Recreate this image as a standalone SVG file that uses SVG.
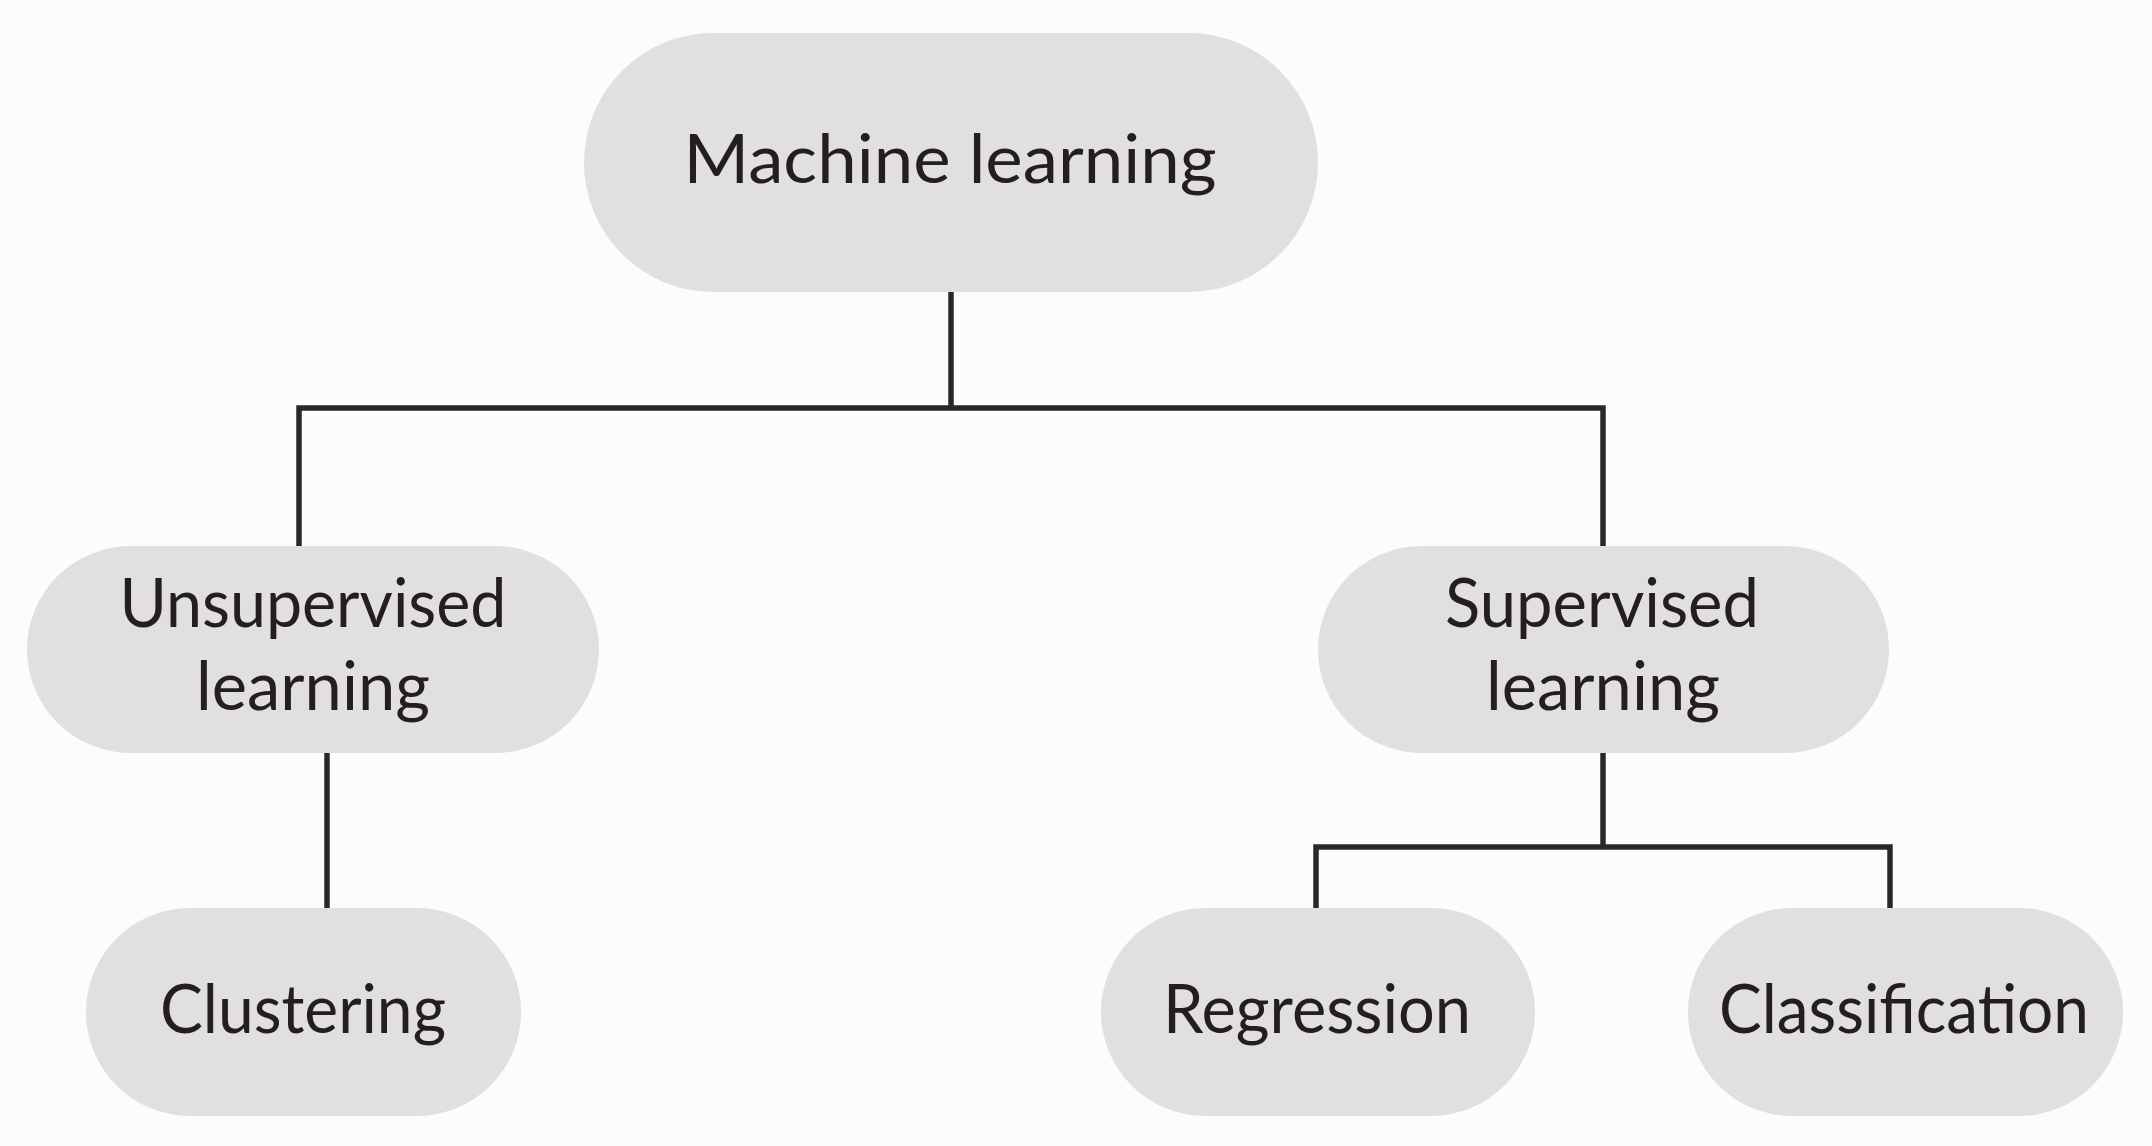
<svg xmlns="http://www.w3.org/2000/svg" width="2152" height="1146" viewBox="0 0 2152 1146">
<style>
.pill{fill:#e1dfe0;}
.lbl{font-family:Lato,"Open Sans","Liberation Sans",sans-serif;font-size:68px;fill:#231f20;text-anchor:middle;}
.conn{fill:none;stroke:#2b2728;stroke-width:5.5;stroke-linejoin:miter;stroke-linecap:butt;}
</style>
<rect x="0" y="0" width="2152" height="1146" fill="#fbfdfd"/>
<g id="connectors">
<path class="conn" d="M951,292 V408"/>
<path class="conn" d="M299,546 V408 H1603 V546"/>
<path class="conn" d="M327,753 V908"/>
<path class="conn" d="M1603,753 V847"/>
<path class="conn" d="M1316,908 V847 H1890 V908"/>
</g>
<g id="machine-learning">
<rect class="pill" x="584" y="33" width="734" height="259" rx="129.5" ry="129.5"/>
<text class="lbl" x="950" y="183" textLength="533" lengthAdjust="spacingAndGlyphs">Machine learning</text>
</g>
<g id="unsupervised-learning">
<rect class="pill" x="27" y="546" width="572" height="207" rx="103.5" ry="103.5"/>
<text class="lbl" x="313" y="627" textLength="387" lengthAdjust="spacingAndGlyphs">Unsupervised</text>
<text class="lbl" x="313" y="710" textLength="234" lengthAdjust="spacingAndGlyphs">learning</text>
</g>
<g id="supervised-learning">
<rect class="pill" x="1318" y="546" width="571" height="207" rx="103.5" ry="103.5"/>
<text class="lbl" x="1602" y="627" textLength="314" lengthAdjust="spacingAndGlyphs">Supervised</text>
<text class="lbl" x="1603" y="710" textLength="234" lengthAdjust="spacingAndGlyphs">learning</text>
</g>
<g id="clustering">
<rect class="pill" x="86" y="908" width="435" height="208" rx="104" ry="104"/>
<text class="lbl" x="303" y="1033" textLength="286" lengthAdjust="spacingAndGlyphs">Clustering</text>
</g>
<g id="regression">
<rect class="pill" x="1101" y="908" width="434" height="208" rx="104" ry="104"/>
<text class="lbl" x="1317" y="1033" textLength="308" lengthAdjust="spacingAndGlyphs">Regression</text>
</g>
<g id="classification">
<rect class="pill" x="1688" y="908" width="435" height="208" rx="104" ry="104"/>
<text class="lbl" x="1904" y="1033" textLength="370" lengthAdjust="spacingAndGlyphs">Classification</text>
</g>
</svg>
